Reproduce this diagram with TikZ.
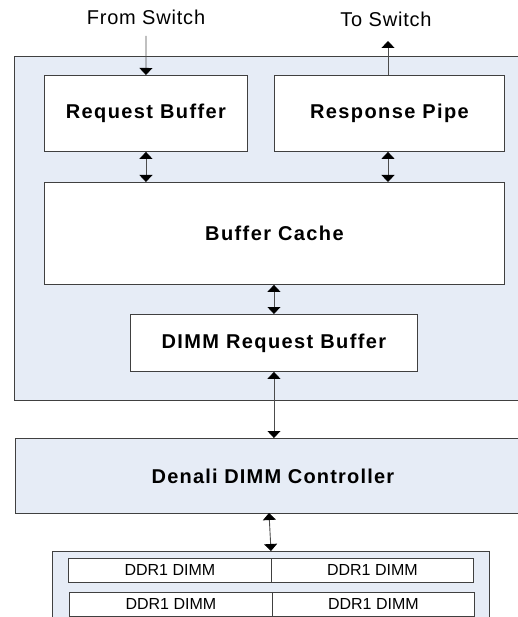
\documentclass[tikz,border=0pt]{standalone}
\usepackage{fontspec}
\setmainfont{Liberation Sans}
\usepackage{tikz}
\usetikzlibrary{arrows.meta}

\definecolor{panefill}{RGB}{230,236,246}
\definecolor{edgegray}{RGB}{64,64,64}

\begin{document}
\begin{tikzpicture}[x=1pt,y=-1pt,
    pane/.style={draw=edgegray,line width=0.9pt,fill=panefill,anchor=north west,inner sep=0pt},
    blk/.style={draw=edgegray,line width=0.9pt,fill=white,anchor=north west,inner sep=0pt,
      font=\fontsize{20}{24}\selectfont\bfseries\addfontfeatures{LetterSpace=7}},
    ddr/.style={draw=edgegray,line width=0.8pt,fill=white,anchor=north west,inner sep=0pt,
      minimum height=24pt,font=\fontsize{16}{19}\selectfont},
    tag/.style={font=\fontsize{20}{24}\selectfont\addfontfeatures{LetterSpace=4}},
    onearrow/.style={draw=gray!60!black,line width=0.9pt,-{Triangle[width=13pt,length=7pt,color=black]}},
    twoarrow/.style={draw=gray!60!black,line width=0.9pt,
      {Triangle[width=13pt,length=7pt,color=black]}-{Triangle[width=13pt,length=7pt,color=black]}}]
  \useasboundingbox (0,0) rectangle (517,617);

  % panes
  \node[pane,minimum width=515pt,minimum height=344pt](bridge) at (14,56){};
  \node[pane,minimum width=515pt,minimum height=75pt,text width=510pt,align=center,
    font=\fontsize{20}{24}\selectfont\bfseries\addfontfeatures{LetterSpace=6}](denali) at (15,438){Denali DIMM Controller};
  \node[pane,minimum width=437pt,minimum height=80pt](ddrpane) at (52,551){};

  % blocks
  \node[blk,minimum width=203pt,minimum height=76pt](reqbuf) at (44,75){Request Buffer};
  \node[blk,minimum width=230pt,minimum height=76pt](respipe) at (274,75){Response Pipe};
  \node[blk,minimum width=460pt,minimum height=102pt](cache) at (44,182){Buffer Cache};
  \node[blk,minimum width=287pt,minimum height=57pt](dimmreq) at (130,314){DIMM Request Buffer};

  % dimms
  \node[ddr,minimum width=203pt](ddra) at (68,558){DDR1 DIMM};
  \node[ddr,minimum width=202pt](ddrb) at (271,558){DDR1 DIMM};
  \node[ddr,minimum width=203pt](ddrc) at (69,592){DDR1 DIMM};
  \node[ddr,minimum width=202pt](ddrd) at (272,592){DDR1 DIMM};

  % switch side
  \node[tag](fromlbl) at (146,17){From Switch};
  \node[tag](tolbl) at (386,19){To Switch};
  \coordinate (fromsw) at (146,36);
  \coordinate (tosw) at (388,41);
  \coordinate (ctltap) at (269,513);
  \coordinate (memtap) at (271,551);

  \draw[onearrow] (fromsw) -- (reqbuf.north);
  \draw[onearrow] (tosw |- respipe.north) -- (tosw);
  \draw[twoarrow] (reqbuf.south) -- (reqbuf.south |- cache.north);
  \draw[twoarrow] (respipe.south -| tosw) -- (cache.north -| tosw);
  \draw[twoarrow] (dimmreq.north |- cache.south) -- (dimmreq.north);
  \draw[twoarrow] (dimmreq.south) -- (dimmreq.south |- denali.north);
  \draw[twoarrow] (ctltap) -- (memtap);
\end{tikzpicture}
\end{document}
